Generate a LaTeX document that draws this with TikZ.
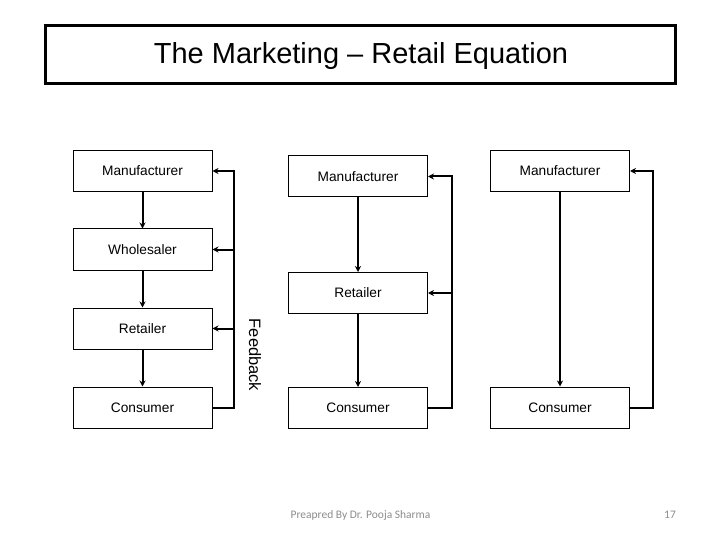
\documentclass[tikz,border=0pt]{standalone}
\usepackage{fontspec}
\setmainfont{Liberation Sans}
\newfontfamily\footfont{Carlito}
\usetikzlibrary{arrows.meta}
\definecolor{footgray}{RGB}{140,140,140}
\tikzset{
  box/.style={draw=black, line width=1pt, minimum width=139pt, minimum height=41pt, inner sep=0pt, font=\fontsize{13.7}{16}\selectfont},
  flow/.style={line width=2pt, -{Stealth[length=6pt,width=6pt]}},
  fb/.style={line width=2pt, -{Stealth[length=6pt,width=6pt]}},
}
\begin{document}
\begin{tikzpicture}[x=1pt,y=-1pt]
\useasboundingbox (0,0) rectangle (720,540);
% title
\node[draw=black, line width=3pt, minimum width=630pt, minimum height=58pt, inner sep=0pt] (title) at (360.5,54.5) {};
\node[font=\fontsize{29}{34}\selectfont, anchor=base] (titletext) at (361,64) {The Marketing – Retail Equation};
% column 1
\node[box] (man1) at (142.5,171) {Manufacturer};
\node[box] (who1) at (142.5,249.5) {Wholesaler};
\node[box] (ret1) at (142.5,328.5) {Retailer};
\node[box] (con1) at (142.5,407.5) {Consumer};
\coordinate (f1x) at (234,0);
\draw[flow] (man1) -- (who1);
\draw[flow] (who1) -- (ret1);
\draw[flow] (ret1) -- (con1);
\draw[fb] (con1.east) -- (con1.east -| f1x) -- (man1.east -| f1x) -- (man1.east);
\draw[fb] (who1.east -| f1x) -- (who1.east);
\draw[fb] (ret1.east -| f1x) -- (ret1.east);
\node[rotate=-90, font=\fontsize{16.5}{19}\selectfont] (fbtext) at (255,355) {Feedback};
% column 2
\node[box] (man2) at (358,176.5) {Manufacturer};
\node[box] (ret2) at (358,293) {Retailer};
\node[box] (con2) at (358,408) {Consumer};
\coordinate (f2x) at (452,0);
\draw[flow] (man2) -- (ret2);
\draw[flow] (ret2) -- (con2);
\draw[fb] (con2.east) -- (con2.east -| f2x) -- (man2.east -| f2x) -- (man2.east);
\draw[fb] (ret2.east -| f2x) -- (ret2.east);
% column 3
\node[box] (man3) at (560,171) {Manufacturer};
\node[box] (con3) at (560,407.5) {Consumer};
\coordinate (f3x) at (653,0);
\draw[flow] (man3) -- (con3);
\draw[fb] (con3.east) -- (con3.east -| f3x) -- (man3.east -| f3x) -- (man3.east);
% footer
\node[text=footgray, font=\footfont\fontsize{11.5}{14}\selectfont] (foot) at (360.5,515) {Preapred By Dr. Pooja Sharma};
\node[text=footgray, font=\footfont\fontsize{11.5}{14}\selectfont] (page) at (670,515) {17};
\end{tikzpicture}
\end{document}
